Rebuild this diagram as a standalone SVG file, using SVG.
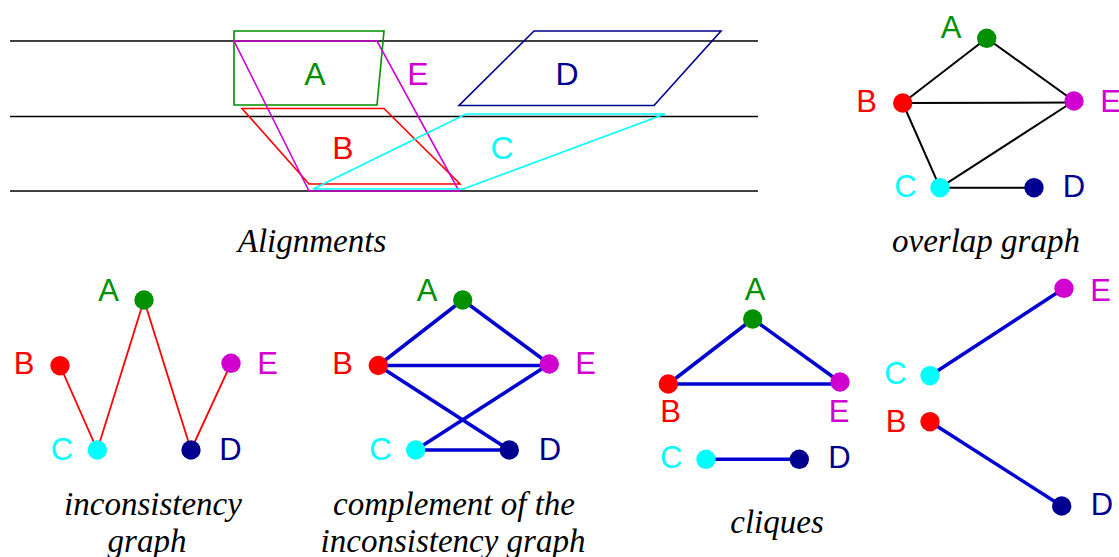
<svg xmlns="http://www.w3.org/2000/svg" width="1119" height="557" viewBox="0 0 1119 557">
<style>
.lbl{font-family:"Liberation Sans",Arial,sans-serif;font-size:31px;text-anchor:middle}
.big{font-size:32px}
.cap{font-family:"Liberation Serif","Times New Roman",serif;font-style:italic;font-size:33px;text-anchor:middle;fill:#000}
.poly{fill:none;stroke-width:1.6}
.bk{stroke:#000;stroke-width:2;fill:none}
.rd{stroke:#ff0000;stroke-width:1.8;fill:none}
.bl{stroke:#0000d0;stroke-width:3.5;fill:none}
.ga{fill:#009000}.gb{fill:#ff0000}.gc{fill:#00ffff}.gd{fill:#000090}.ge{fill:#d000d0}
</style>
<rect width="1119" height="557" fill="#fff"/>
<g id="alignments">
<g stroke="#000" stroke-width="1.3">
<line x1="10" y1="41" x2="758" y2="41"/>
<line x1="10" y1="116.5" x2="758" y2="116.5"/>
<line x1="10" y1="191" x2="758" y2="191"/>
</g>
<polygon class="poly" stroke="#009000" points="234,31 384,31 377,105 234,105"/>
<polygon class="poly" stroke="#ff0000" points="242,108.5 384,108.5 460,184 309,184"/>
<polygon class="poly" stroke="#d000d0" points="234,41 377,41 459,191 309,191"/>
<polygon class="poly" stroke="#00ffff" points="313,189 466,114 665,114 463,189"/>
<polygon class="poly" stroke="#000090" points="534,31 721,31 654,105.5 459,105.5"/>
<text class="lbl big ga" x="315" y="85">A</text>
<text class="lbl big ge" x="418" y="85">E</text>
<text class="lbl big gd" x="567" y="85">D</text>
<text class="lbl big gb" x="343" y="159">B</text>
<text class="lbl big gc" x="502" y="159">C</text>
<text class="cap" x="312" y="252">Alignments</text>
</g>
<g id="connectors">
<g class="bk">
<line x1="986.7" y1="38.3" x2="902.7" y2="103"/>
<line x1="986.7" y1="38.3" x2="1074" y2="101"/>
<line x1="902.7" y1="103" x2="1074" y2="102.5"/>
<line x1="902.7" y1="103" x2="940" y2="187.7"/>
<line x1="940" y1="187.7" x2="1074" y2="101"/>
<line x1="940" y1="187.7" x2="1034" y2="187.7"/>
</g>
<g class="rd">
<line x1="60" y1="365.7" x2="97.3" y2="450"/>
<line x1="97.3" y1="450" x2="144" y2="300"/>
<line x1="144" y1="300" x2="191" y2="450"/>
<line x1="191" y1="450" x2="231" y2="363.3"/>
</g>
<g class="bl">
<line x1="462.7" y1="300" x2="378.3" y2="365.5"/>
<line x1="462.7" y1="300" x2="549.3" y2="364"/>
<line x1="378.3" y1="365.5" x2="549.3" y2="365.5"/>
<line x1="378.3" y1="365.5" x2="509.3" y2="450"/>
<line x1="549.3" y1="364" x2="415.7" y2="450"/>
<line x1="415.7" y1="450" x2="509.3" y2="450"/>
<line x1="752.7" y1="319" x2="668.3" y2="384"/>
<line x1="752.7" y1="319" x2="840" y2="382"/>
<line x1="668.3" y1="384" x2="840" y2="384"/>
<line x1="706" y1="459.3" x2="799.3" y2="459.3"/>
<line x1="930" y1="375.7" x2="1064" y2="288.3"/>
<line x1="930" y1="421.7" x2="1061.7" y2="506"/>
</g>
</g>
<g id="overlap-graph">
<g id="ov-A"><circle class="ga" cx="986.7" cy="38.3" r="9.7"/><text class="lbl ga" x="951" y="37.7">A</text></g>
<g id="ov-B"><circle class="gb" cx="902.7" cy="103" r="9.7"/><text class="lbl gb" x="866.5" y="111.7">B</text></g>
<g id="ov-E"><circle class="ge" cx="1074" cy="101" r="9.7"/><text class="lbl ge" x="1110.5" y="111.7">E</text></g>
<g id="ov-C"><circle class="gc" cx="940" cy="187.7" r="9.7"/><text class="lbl gc" x="905.5" y="196.7">C</text></g>
<g id="ov-D"><circle class="gd" cx="1034" cy="187.7" r="9.7"/><text class="lbl gd" x="1074" y="196.7">D</text></g>
<text class="cap" x="986" y="252">overlap graph</text>
</g>
<g id="inconsistency-graph">
<g id="in-A"><circle class="ga" cx="144" cy="300" r="9.7"/><text class="lbl ga" x="108.5" y="300.7">A</text></g>
<g id="in-B"><circle class="gb" cx="60" cy="365.7" r="9.7"/><text class="lbl gb" x="24" y="374.3">B</text></g>
<g id="in-E"><circle class="ge" cx="231" cy="363.3" r="9.7"/><text class="lbl ge" x="267.5" y="374.3">E</text></g>
<g id="in-C"><circle class="gc" cx="97.3" cy="450" r="9.7"/><text class="lbl gc" x="62" y="460">C</text></g>
<g id="in-D"><circle class="gd" cx="191" cy="450" r="9.7"/><text class="lbl gd" x="230.5" y="460">D</text></g>
<text class="cap" x="153" y="515">inconsistency</text>
<text class="cap" x="147" y="552">graph</text>
</g>
<g id="complement-graph">
<g id="co-A"><circle class="ga" cx="462.7" cy="300" r="9.7"/><text class="lbl ga" x="427" y="300.7">A</text></g>
<g id="co-B"><circle class="gb" cx="378.3" cy="365.5" r="9.7"/><text class="lbl gb" x="342.7" y="374.3">B</text></g>
<g id="co-E"><circle class="ge" cx="549.3" cy="364" r="9.7"/><text class="lbl ge" x="585.5" y="374.3">E</text></g>
<g id="co-C"><circle class="gc" cx="415.7" cy="450" r="9.7"/><text class="lbl gc" x="380.5" y="460">C</text></g>
<g id="co-D"><circle class="gd" cx="509.3" cy="450" r="9.7"/><text class="lbl gd" x="550" y="460">D</text></g>
<text class="cap" x="454" y="515">complement of the</text>
<text class="cap" x="453" y="552">inconsistency graph</text>
</g>
<g id="cliques">
<g id="cl-A"><circle class="ga" cx="752.7" cy="319" r="9.7"/><text class="lbl ga" x="755" y="300">A</text></g>
<g id="cl-B"><circle class="gb" cx="668.3" cy="384" r="9.7"/><text class="lbl gb" x="670.7" y="421.7">B</text></g>
<g id="cl-E"><circle class="ge" cx="840" cy="382" r="9.7"/><text class="lbl ge" x="839" y="421.7">E</text></g>
<g id="cl-C"><circle class="gc" cx="706" cy="459.3" r="9.7"/><text class="lbl gc" x="671.3" y="468.3">C</text></g>
<g id="cl-D"><circle class="gd" cx="799.3" cy="459.3" r="9.7"/><text class="lbl gd" x="839.5" y="468.3">D</text></g>
<g id="cl-E2"><circle class="ge" cx="1064" cy="288.3" r="9.7"/><text class="lbl ge" x="1100.5" y="300.7">E</text></g>
<g id="cl-C2"><circle class="gc" cx="930" cy="375.7" r="9.7"/><text class="lbl gc" x="895.5" y="384.3">C</text></g>
<g id="cl-B2"><circle class="gb" cx="930" cy="421.7" r="9.7"/><text class="lbl gb" x="896" y="431.7">B</text></g>
<g id="cl-D2"><circle class="gd" cx="1061.7" cy="506" r="9.7"/><text class="lbl gd" x="1102" y="515">D</text></g>
<text class="cap" x="777" y="533">cliques</text>
</g>
</svg>
